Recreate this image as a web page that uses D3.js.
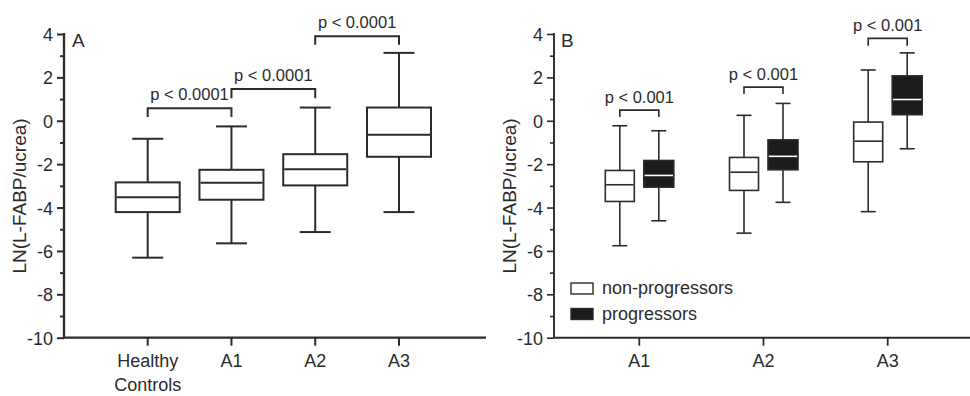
<!DOCTYPE html>
<html>
<head>
<meta charset="utf-8">
<script src="https://cdn.jsdelivr.net/npm/d3@7"></script>
<style>
  body { margin: 0; background: #fff; }
  svg text { font-family: "Liberation Sans", Arial, sans-serif; fill: #2b2b2b; }
</style>
</head>
<body>
<div class="chart"></div>
<script>
// panel A data: whisker low, Q1, median, Q3, whisker high
const groupsA = ['Healthy Controls', 'A1', 'A2', 'A3']
const lowA = [-6.31, -5.65, -5.13, -4.21]
const q1A = [-4.21, -3.64, -2.98, -1.66]
const medA = [-3.53, -2.86, -2.24, -0.65]
const q3A = [-2.84, -2.26, -1.54, 0.61]
const highA = [-0.83, -0.26, 0.61, 3.13]

// panel B data
const groupsB = ['A1', 'A2', 'A3']
const subgroups = ['non-progressors', 'progressors']
const lowNon = [-5.76, -5.18, -4.19]
const q1Non = [-3.72, -3.21, -1.89]
const medNon = [-2.95, -2.37, -0.94]
const q3Non = [-2.29, -1.69, -0.06]
const highNon = [-0.23, 0.25, 2.34]
const lowProg = [-4.61, -3.76, -1.29]
const q1Prog = [-3.06, -2.26, 0.28]
const medProg = [-2.52, -1.64, 0.98]
const q3Prog = [-1.83, -0.88, 2.07]
const highProg = [-0.46, 0.80, 3.13]

// p-value brackets
const bracketsA = [
  {from: 'Healthy Controls', to: 'A1', y: 0.58, leg: 0.17, label: 'p < 0.0001'},
  {from: 'A1', to: 'A2', y: 1.47, leg: 1.04, label: 'p < 0.0001'},
  {from: 'A2', to: 'A3', y: 3.9, leg: 3.5, label: 'p < 0.0001'}
]
const bracketsB = [
  {group: 'A1', y: 0.49, leg: 0.17, label: 'p < 0.001'},
  {group: 'A2', y: 1.55, leg: 1.23, label: 'p < 0.001'},
  {group: 'A3', y: 3.8, leg: 3.46, label: 'p < 0.001'}
]

const majorTicks = [-10, -8, -6, -4, -2, 0, 2, 4]
const minorTicks = [-9, -7, -5, -3, -1, 1, 3]

const width = 970, height = 396
const ink = '#2b2b2b'

const svg = d3.select('.chart').append('svg')
  .attr('width', width)
  .attr('height', height)

const yScale = d3.scaleLinear().domain([-10, 4]).range([337.7, 34])

function drawYAxis(g, x0, xEnd, strokeW) {
  // 主刻度
  const ax = g.append('g')
    .attr('transform', `translate(${x0},0)`)
    .call(d3.axisLeft(yScale).tickValues(majorTicks).tickSize(7).tickPadding(4).tickFormat(d => String(d)))
  ax.select('.domain').remove()
  ax.selectAll('line').attr('stroke', ink).attr('stroke-width', strokeW)
  ax.selectAll('text').style('font-size', '18px').attr('fill', ink).attr('dy', '0.36em')
  // 次刻度
  const mn = g.append('g')
    .attr('transform', `translate(${x0},0)`)
    .call(d3.axisLeft(yScale).tickValues(minorTicks).tickSize(4).tickFormat(''))
  mn.select('.domain').remove()
  mn.selectAll('line').attr('stroke', ink).attr('stroke-width', strokeW)
  // axis lines
  g.append('line').attr('x1', x0).attr('x2', x0)
    .attr('y1', yScale(4) - 1).attr('y2', yScale(-10))
    .attr('stroke', ink).attr('stroke-width', strokeW + 0.3)
  g.append('line').attr('x1', x0).attr('x2', xEnd)
    .attr('y1', yScale(-10)).attr('y2', yScale(-10))
    .attr('stroke', ink).attr('stroke-width', strokeW + 0.3)
}

function drawBox(g, cx, d, boxW, capW, strokeW, fill, medColor) {
  g.append('line').attr('x1', cx).attr('x2', cx)
    .attr('y1', yScale(d.high)).attr('y2', yScale(d.low))
    .attr('stroke', ink).attr('stroke-width', strokeW)
  g.selectAll(null).data([d.high, d.low]).join('line')
    .attr('x1', cx - capW / 2).attr('x2', cx + capW / 2)
    .attr('y1', v => yScale(v)).attr('y2', v => yScale(v))
    .attr('stroke', ink).attr('stroke-width', strokeW)
  g.append('rect')
    .attr('x', cx - boxW / 2).attr('y', yScale(d.q3))
    .attr('width', boxW).attr('height', yScale(d.q1) - yScale(d.q3))
    .attr('fill', fill).attr('stroke', ink).attr('stroke-width', strokeW)
  g.append('line').attr('x1', cx - boxW / 2 + strokeW / 2).attr('x2', cx + boxW / 2 - strokeW / 2)
    .attr('y1', yScale(d.med)).attr('y2', yScale(d.med))
    .attr('stroke', medColor).attr('stroke-width', strokeW)
}

function drawBracket(g, x1, x2, b, strokeW, textDy) {
  g.append('path')
    .attr('d', `M${x1},${yScale(b.leg)}V${yScale(b.y)}H${x2}V${yScale(b.leg)}`)
    .attr('fill', 'none').attr('stroke', ink).attr('stroke-width', strokeW)
  g.append('text')
    .attr('x', (x1 + x2) / 2).attr('y', yScale(b.y) - textDy)
    .attr('text-anchor', 'middle')
    .style('font-size', '16.5px')
    .text(b.label)
}

// ---------- Panel A ----------
const gA = svg.append('g')
const xA = d3.scalePoint().domain(groupsA).range([147.7, 399])
drawYAxis(gA, 64, 486, 2)

// x 軸刻度與標籤
groupsA.forEach(c => {
  gA.append('line').attr('x1', xA(c)).attr('x2', xA(c))
    .attr('y1', yScale(-10)).attr('y2', yScale(-10) + 8)
    .attr('stroke', ink).attr('stroke-width', 2)
  const t = gA.append('text').attr('x', xA(c)).attr('y', 367)
    .attr('text-anchor', 'middle').style('font-size', '18px')
  c.split(' ').forEach((w, i) => {
    t.append('tspan').attr('x', xA(c)).attr('dy', i === 0 ? 0 : 24).text(w)
  })
})

groupsA.forEach((c, i) => {
  drawBox(gA, xA(c), {low: lowA[i], q1: q1A[i], med: medA[i], q3: q3A[i], high: highA[i]},
    64, 31, 2, '#fff', ink)
})
bracketsA.forEach(b => drawBracket(gA, xA(b.from), xA(b.to), b, 2, 8))

gA.append('text').attr('x', 72).attr('y', 47).style('font-size', '19px').text('A')
gA.append('text')
  .attr('transform', 'translate(26,196) rotate(-90)')
  .attr('text-anchor', 'middle').style('font-size', '19px')
  .text('LN(L-FABP/ucrea)')

// ---------- Panel B ----------
const gB = svg.append('g')
const xB = d3.scalePoint().domain(groupsB).range([639.3, 887.7])
const xSub = d3.scalePoint().domain(subgroups).range([-19.5, 19.5])
drawYAxis(gB, 554, 970, 1.6)

groupsB.forEach(c => {
  gB.append('line').attr('x1', xB(c)).attr('x2', xB(c))
    .attr('y1', yScale(-10)).attr('y2', yScale(-10) + 8)
    .attr('stroke', ink).attr('stroke-width', 1.8)
  gB.append('text').attr('x', xB(c)).attr('y', 367)
    .attr('text-anchor', 'middle').style('font-size', '18px').text(c)
})

groupsB.forEach((c, i) => {
  drawBox(gB, xB(c) + xSub('non-progressors'),
    {low: lowNon[i], q1: q1Non[i], med: medNon[i], q3: q3Non[i], high: highNon[i]},
    29, 15, 1.6, '#fff', ink)
  drawBox(gB, xB(c) + xSub('progressors'),
    {low: lowProg[i], q1: q1Prog[i], med: medProg[i], q3: q3Prog[i], high: highProg[i]},
    30, 15, 1.6, '#1c1c1c', '#fff')
})
bracketsB.forEach(b => {
  drawBracket(gB, xB(b.group) + xSub('non-progressors'), xB(b.group) + xSub('progressors'), b, 1.6, 7)
})

gB.append('text').attr('x', 561).attr('y', 47).style('font-size', '19px').text('B')
gB.append('text')
  .attr('transform', 'translate(516,196) rotate(-90)')
  .attr('text-anchor', 'middle').style('font-size', '19px')
  .text('LN(L-FABP/ucrea)')

// 圖例
const legend = gB.append('g').selectAll('g')
  .data(subgroups).join('g')
  .attr('transform', (d, i) => `translate(571,${283 + i * 25.5})`)
legend.append('rect')
  .attr('width', 22).attr('height', 11)
  .attr('fill', d => d === 'progressors' ? '#1c1c1c' : '#fff')
  .attr('stroke', ink).attr('stroke-width', 1.4)
legend.append('text')
  .attr('x', 31).attr('y', 11)
  .style('font-size', '18px')
  .text(d => d)
</script>
</body>
</html>
